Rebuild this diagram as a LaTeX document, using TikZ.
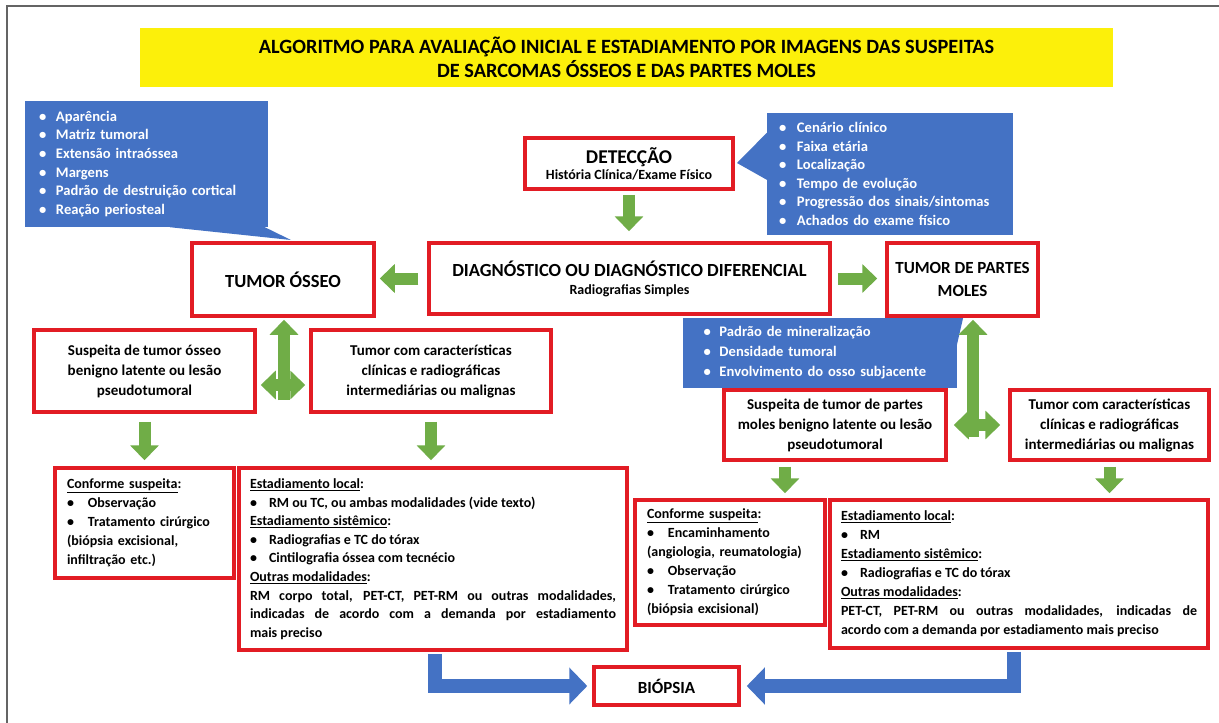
\documentclass[tikz,border=0pt]{standalone}
\usepackage{fontspec}
\setmainfont{Carlito}
\usetikzlibrary{arrows.meta,calc}
\definecolor{boxred}{RGB}{226,28,36}
\definecolor{callblue}{RGB}{68,114,196}
\definecolor{agreen}{RGB}{112,173,71}
\definecolor{tyellow}{RGB}{252,240,10}
\definecolor{framegray}{RGB}{100,100,100}
\newcommand{\myb}[1][19pt]{\makebox[#1][l]{\textbullet}}
\newcommand{\fBig}{\bfseries\fontsize{18.5}{23}\selectfont}
\newcommand{\fTitle}{\bfseries\fontsize{20.3}{23.5}\selectfont}
\newcommand{\fMid}{\bfseries\fontsize{15}{20}\selectfont}
\newcommand{\fSm}{\bfseries\fontsize{14}{19}\selectfont}
\begin{document}
\begin{tikzpicture}[x=1pt,y=-1pt,
  redbox/.style={draw=boxred, line width=3.5pt, fill=white, inner sep=0pt, font=\fSm},
  callout/.style={fill=callblue, text=white, inner sep=0pt, font=\bfseries\fontsize{14.6}{18.6}\selectfont, align=left},
  garrow/.style={draw=agreen, line width=12pt, -{Triangle[length=15pt,width=28pt]}},
  garrowboth/.style={draw=agreen, line width=12pt, {Triangle[length=15pt,width=28pt]}-{Triangle[length=15pt,width=28pt]}},
  barrow/.style={draw=callblue, line width=14pt, line join=miter, -{Triangle[length=18pt,width=36pt]}}
]
\useasboundingbox (0,0) rectangle (1219,723);
\fill[white] (0,0) rectangle (1219,723);
\draw[framegray, line width=2pt] (7,723) -- (7,6) -- (1219,6);

% title
\node[fill=tyellow, minimum width=973, minimum height=59, inner sep=0pt, align=center, font=\fTitle] (title) at (626.5,57.5)
  {ALGORITMO PARA AVALIAÇÃO INICIAL E ESTADIAMENTO POR IMAGENS DAS SUSPEITAS\\DE SARCOMAS ÓSSEOS E DAS PARTES MOLES};

% callouts
\node[callout, text width=215, inner xsep=14, minimum height=126] (lc) at (146.5,164)
  {\myb[17pt]Aparência\\\myb[17pt]Matriz tumoral\\\myb[17pt]Extensão intraóssea\\\myb[17pt]Margens\\\myb[17pt]Padrão de destruição cortical\\\myb[17pt]Reação periosteal};
\fill[callblue] ($(lc.south west)+(145,0)$) -- ($(lc.south west)+(240,0)$) -- (291,240) -- cycle;

\node[callout, text width=222, inner xsep=12, minimum height=122] (rc) at (890,174)
  {\myb[18pt]Cenário clínico\\\myb[18pt]Faixa etária\\\myb[18pt]Localização\\\myb[18pt]Tempo de evolução\\\myb[18pt]Progressão dos sinais/sintomas\\\myb[18pt]Achados do exame físico};
\fill[callblue] ($(rc.north west)+(0,20)$) -- (737,163) -- ($(rc.north west)+(0,67)$) -- cycle;

\node[callout, text width=232, inner xsep=21, minimum height=70, font=\bfseries\fontsize{14.6}{20}\selectfont] (mc) at (819.5,353)
  {\myb[16pt]Padrão de mineralização\\\myb[16pt]Densidade tumoral\\\myb[16pt]Envolvimento do osso subjacente};
\fill[callblue] ($(mc.north east)+(-14,0)$) -- (964,314) -- ($(mc.north east)+(0,28)$) -- cycle;

% boxes
\node[redbox, minimum width=208, minimum height=51, align=center] (det) at (629,163.5)
  {{\bfseries\fontsize{19.5}{23}\selectfont DETECÇÃO}\\[-3pt]História Clínica/Exame Físico};
\node[redbox, minimum width=182, minimum height=73, font=\fBig] (to) at (283,279.5) {TUMOR ÓSSEO};
\node[redbox, minimum width=401, minimum height=71, align=center] (diag) at (629.5,278.5)
  {{\fBig DIAGNÓSTICO OU DIAGNÓSTICO DIFERENCIAL}\\[-1pt]Radiografias Simples};
\node[redbox, minimum width=151, minimum height=73, align=center, font=\bfseries\fontsize{17}{23}\selectfont] (tdpm) at (962.5,279.5)
  {TUMOR DE PARTES\\MOLES};

\node[redbox, minimum width=221, minimum height=82, align=center, font=\fMid] (l3a) at (144.5,371)
  {Suspeita de tumor ósseo\\benigno latente ou lesão\\pseudotumoral};
\node[redbox, minimum width=240, minimum height=82, align=center, font=\fMid] (l3b) at (431,371)
  {Tumor com características\\clínicas e radiográficas\\intermediárias ou malignas};
\node[redbox, minimum width=222, minimum height=70, align=center, font=\fMid] (r4a) at (835,425)
  {Suspeita de tumor de partes\\moles benigno latente ou lesão\\pseudotumoral};
\node[redbox, minimum width=199, minimum height=70, align=center, font=\fMid] (r4b) at (1109.5,425)
  {Tumor com características\\clínicas e radiográficas\\intermediárias ou malignas};

\node[redbox, text width=155, inner xsep=12, minimum height=110, align=left] (l5a) at (144.5,523)
  {\underline{Conforme suspeita}:\\\myb[21pt]Observação\\\myb[21pt]Tratamento cirúrgico\\(biópsia excisional,\\infiltração etc.)};
\node[redbox, text width=366, inner xsep=11, minimum height=182, align=justify, font=\bfseries\fontsize{14}{18.6}\selectfont] (l5b) at (433,559)
  {\underline{Estadiamento local}:\\\myb RM ou TC, ou ambas modalidades (vide texto)\\\underline{Estadiamento sistêmico}:\\\myb Radiografias e TC do tórax\\\myb Cintilografia óssea com tecnécio\\\underline{Outras modalidades}:\\RM corpo total, PET-CT, PET-RM ou outras modalidades,\linebreak indicadas de acordo com a demanda por estadiamento\linebreak mais preciso};
\node[redbox, text width=166, inner xsep=12, minimum height=125, align=left] (r5a) at (730,562.5)
  {\underline{Conforme suspeita}:\\\myb[21pt]Encaminhamento\\(angiologia, reumatologia)\\\myb[21pt]Observação\\\myb[21pt]Tratamento cirúrgico\\(biópsia excisional)};
\node[redbox, text width=356, inner xsep=11, minimum height=148, align=justify] (r5b) at (1019,574)
  {\underline{Estadiamento local}:\\\myb RM\\\underline{Estadiamento sistêmico}:\\\myb Radiografias e TC do tórax\\\underline{Outras modalidades}:\\PET-CT, PET-RM ou outras modalidades, indicadas de\linebreak acordo com a demanda por estadiamento mais preciso};

\node[redbox, minimum width=145, minimum height=38, font=\bfseries\fontsize{17}{19}\selectfont] (bio) at (666.5,686) {BIÓPSIA};

% green arrows
\draw[garrow] ([yshift=-4]det.south) -- ([yshift=10]det.south |- diag.north);
\draw[garrow] ([xshift=-9]diag.west) -- ([xshift=4]to.east |- diag.west);
\draw[garrow] ([xshift=6]diag.east) -- ([xshift=-8]tdpm.west |- diag.east);

\coordinate (tlb) at (284,400);
\coordinate (tlh) at (284,385);
\draw[garrow] (tlb) -- ([yshift=-2]tlb |- to.south);
\draw[garrowboth] ([xshift=4]tlh -| l3a.east) -- ([xshift=-4]tlh -| l3b.west);

\coordinate (trb) at (973,437);
\coordinate (trh) at (973,425);
\draw[garrow] (trb) -- ([yshift=-2]trb |- tdpm.south);
\draw[garrowboth] ([xshift=6]trh -| r4a.east) -- ([xshift=-8]trh -| r4b.west);

\draw[garrow] ([yshift=-8]l3a.south) -- ([yshift=6]l3a.south |- l5a.north);
\draw[garrow] ([yshift=-8]l3b.south) -- ([yshift=6]l3b.south |- l5b.north);
\coordinate (ra) at (785,0);
\draw[garrow] ([yshift=-5]ra |- r4a.south) -- ([yshift=5]ra |- r5a.north);
\draw[garrow] ([yshift=-5]r4b.south) -- ([yshift=5]r4b.south |- r5b.north);

% blue arrows
\coordinate (bl) at (435,0);
\coordinate (br) at (1014,0);
\draw[barrow] ([yshift=-2]bl |- l5b.south) |- ([xshift=-5]bio.west);
\draw[barrow] ([yshift=-2]br |- r5b.south) |- ([xshift=6]bio.east);
\end{tikzpicture}
\end{document}
